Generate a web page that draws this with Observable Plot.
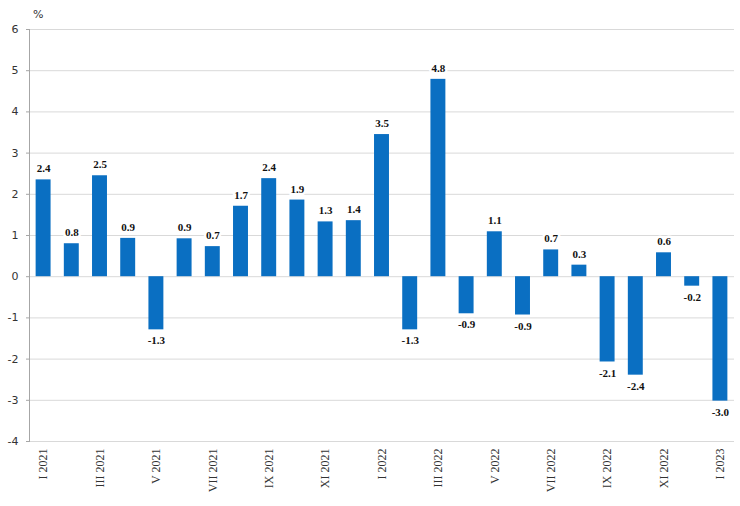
<!DOCTYPE html>
<html>
<head>
<meta charset="utf-8">
<script src="https://cdn.jsdelivr.net/npm/d3@7"></script>
<script src="https://cdn.jsdelivr.net/npm/@observablehq/plot@0.6"></script>
<style>
  html, body { margin: 0; padding: 0; background: #fff; }
  #chart { position: relative; width: 740px; height: 506px; }
  #unit { position: absolute; left: 33px; top: 8px; font: 11px "DejaVu Sans", Verdana, sans-serif; color: #333; }
</style>
</head>
<body>
<div id="chart"><div id="unit">%</div></div>
<script>
const months = ["I 2021","II 2021","III 2021","IV 2021","V 2021","VI 2021","VII 2021","VIII 2021","IX 2021","X 2021","XI 2021","XII 2021",
  "I 2022","II 2022","III 2022","IV 2022","V 2022","VI 2022","VII 2022","VIII 2022","IX 2022","X 2022","XI 2022","XII 2022","I 2023"];
const values = [2.35, 0.8, 2.45, 0.93, -1.29, 0.92, 0.73, 1.71, 2.38, 1.86, 1.33, 1.36,
  3.45, -1.29, 4.79, -0.9, 1.09, -0.93, 0.65, 0.28, -2.07, -2.39, 0.58, -0.23, -3.02];
const labels = ["2.4","0.8","2.5","0.9","-1.3","0.9","0.7","1.7","2.4","1.9","1.3","1.4",
  "3.5","-1.3","4.8","-0.9","1.1","-0.9","0.7","0.3","-2.1","-2.4","0.6","-0.2","-3.0"];
const shownTicks = ["I 2021","III 2021","V 2021","VII 2021","IX 2021","XI 2021","I 2022","III 2022","V 2022","VII 2022","IX 2022","XI 2022","I 2023"];
const yTicks = [-4,-3,-2,-1,0,1,2,3,4,5,6];

const data = months.map((m, i) => ({month: m, value: values[i], label: labels[i]}));
const serif = "'Liberation Serif', 'Times New Roman', serif";
const sans = "'DejaVu Sans', Verdana, sans-serif";

const chart = Plot.plot({
  width: 740,
  height: 506,
  marginLeft: 29,
  marginRight: 6,
  marginTop: 29,
  marginBottom: 65,
  x: {domain: months, paddingInner: 0.47, paddingOuter: 0.235, round: false, label: null},
  y: {domain: [-4, 6], label: null},
  marks: [
    Plot.ruleY(yTicks, {stroke: "#d9d9d9", strokeWidth: 1}),
    Plot.frame({anchor: "left", stroke: "#a6a6a6"}),
    Plot.axisY({ticks: yTicks, tickSize: 3, tickPadding: 8, stroke: "#a6a6a6", fontFamily: sans, fontSize: 11, color: "#333", label: null, tickFormat: d => String(d)}),
    Plot.axisX({ticks: shownTicks, tickRotate: -90, tickSize: 0, tickPadding: 7, fontFamily: serif, fontSize: 12, color: "#333", label: null}),
    Plot.barY(data, {x: "month", y: "value", fill: "#0a6fc2"}),
    Plot.text(data.filter(d => d.value >= 0), {x: "month", y: "value", text: "label", dy: -11, fontFamily: serif, fontWeight: "bold", fontSize: 11, fill: "#111", stroke: "white", strokeWidth: 5, paintOrder: "stroke"}),
    Plot.text(data.filter(d => d.value < 0), {x: "month", y: "value", text: "label", dy: 11, fontFamily: serif, fontWeight: "bold", fontSize: 11, fill: "#111", stroke: "white", strokeWidth: 5, paintOrder: "stroke"})
  ]
});
document.getElementById("chart").appendChild(chart);
</script>
</body>
</html>
